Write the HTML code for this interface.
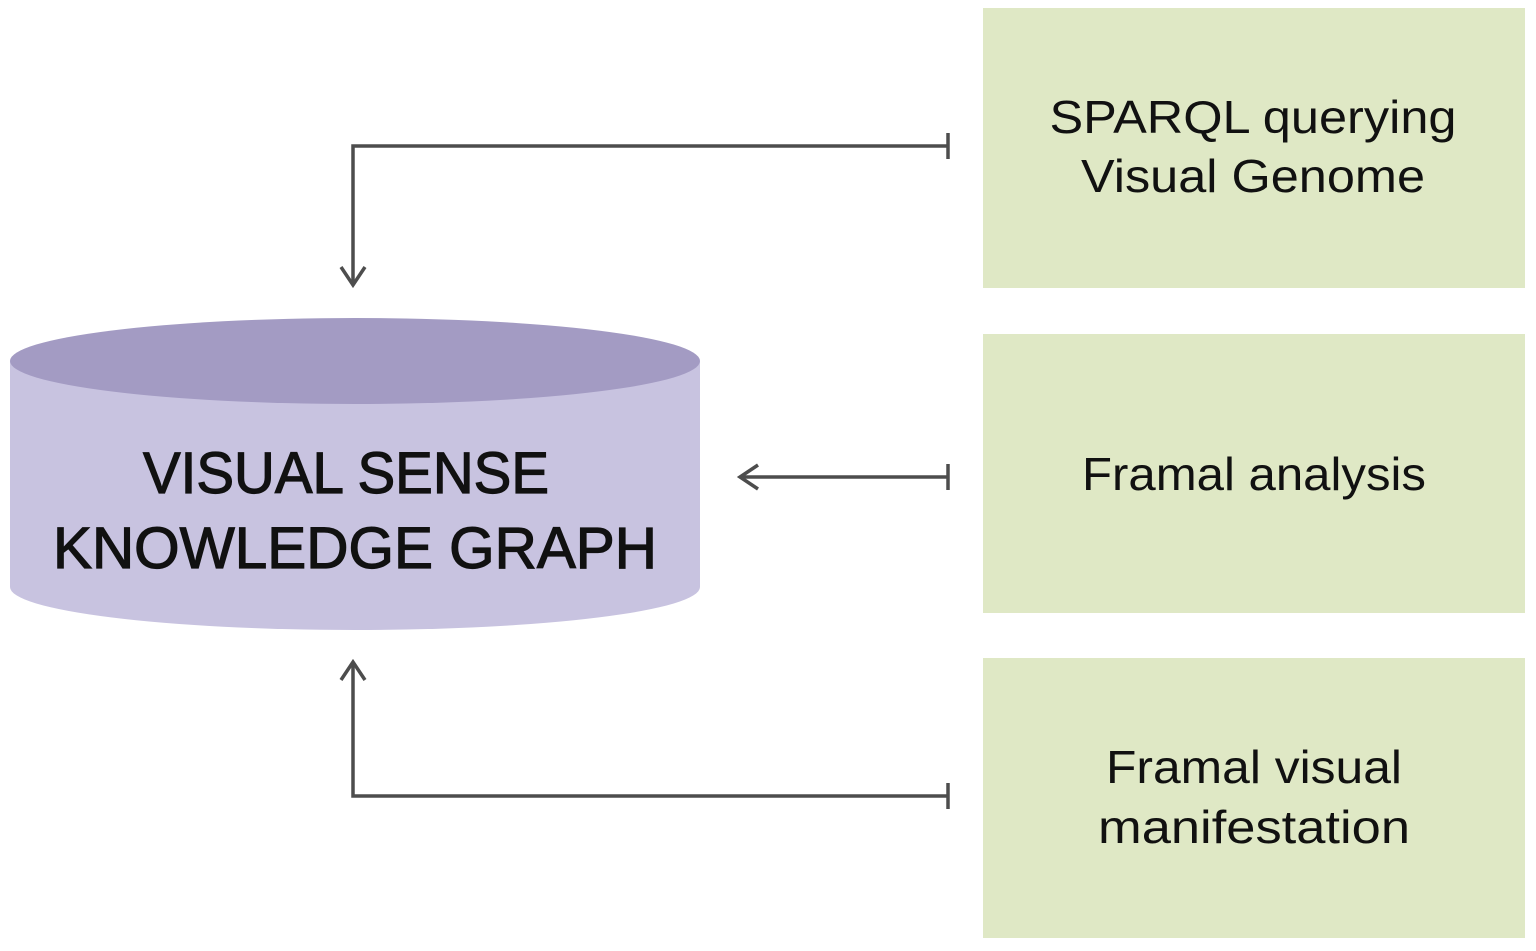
<!DOCTYPE html>
<html><head><meta charset="utf-8"><style>html,body{margin:0;padding:0;background:#fff}</style></head>
<body>
<svg width="1536" height="946" viewBox="0 0 1536 946" xmlns="http://www.w3.org/2000/svg" font-family="Liberation Sans, sans-serif">
<rect x="983" y="8" width="542" height="280" fill="#dfe8c5"/>
<rect x="983" y="334" width="542" height="279" fill="#dfe8c5"/>
<rect x="983" y="658" width="542" height="280" fill="#dfe8c5"/>
<path d="M10 361 L10 587 A345 43 0 0 0 700 587 L700 361 Z" fill="#c8c3e0"/>
<ellipse cx="355" cy="361" rx="345" ry="43" fill="#a39bc3"/>
<g fill="#111" stroke="#111" stroke-width="1.2" font-size="58" text-anchor="middle">
<text x="346" y="493" textLength="406" lengthAdjust="spacingAndGlyphs">VISUAL SENSE</text>
<text x="355" y="568" textLength="604" lengthAdjust="spacingAndGlyphs">KNOWLEDGE GRAPH</text>
</g>
<g fill="#111" font-size="46" text-anchor="middle">
<text x="1253" y="133" textLength="407" lengthAdjust="spacingAndGlyphs">SPARQL querying</text>
<text x="1253" y="192" textLength="344" lengthAdjust="spacingAndGlyphs">Visual Genome</text>
<text x="1254" y="490" textLength="344" lengthAdjust="spacingAndGlyphs">Framal analysis</text>
<text x="1254" y="783" textLength="296" lengthAdjust="spacingAndGlyphs">Framal visual</text>
<text x="1254" y="843" textLength="312" lengthAdjust="spacingAndGlyphs">manifestation</text>
</g>
<g stroke="#4d4d4d" stroke-width="3.5" fill="none">
<path d="M948 146 H353 V285"/>
<path d="M341 267 L353 285 L365 267"/>
<path d="M948 133 V159"/>
<path d="M948 477 H740"/>
<path d="M758 465 L740 477 L758 489"/>
<path d="M948 464 V490"/>
<path d="M948 796 H353 V662"/>
<path d="M341 680 L353 662 L365 680"/>
<path d="M948 783 V809"/>
</g>
</svg>
</body></html>
